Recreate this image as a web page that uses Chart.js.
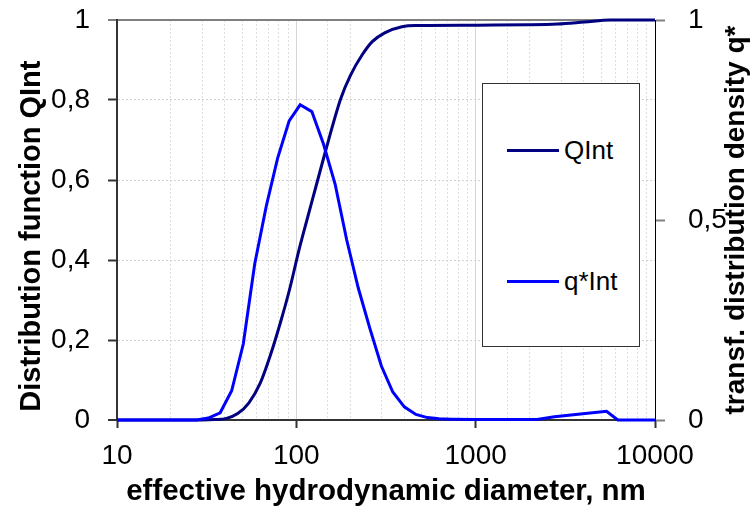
<!DOCTYPE html>
<html><head><meta charset="utf-8">
<script src="https://cdn.jsdelivr.net/npm/chart.js@4/dist/chart.umd.min.js"></script>
<style>
html,body{margin:0;padding:0;background:#fff;}
#wrap{position:relative;width:753px;height:511px;}
#legend{position:absolute;left:482px;top:83px;width:158px;height:264px;box-sizing:border-box;border:1.5px solid #333;background:#fff;font-family:'Liberation Sans',Arial,sans-serif;font-size:26px;color:#000;}
.item{position:absolute;left:24px;display:flex;align-items:center;height:30px;margin-top:-15px;white-space:nowrap;}
.swatch{width:52px;height:3px;margin-right:5px;}
</style></head>
<body><div id="wrap"><canvas id="c" width="753" height="511"></canvas><div id="legend"></div></div>
<script>
// ---- data ----
const seriesNames = ['QInt', 'q*Int'];
const qintX = [10, 30, 35, 40.8, 47.1, 54.4, 62.9, 71.8, 82.3, 91.5, 104, 113, 128, 146, 177, 201, 233, 265, 311, 388, 460, 545, 1030, 1950, 2860, 4040, 5640, 10000];
const qintY = [0, 0, 0.001, 0.004, 0.016, 0.043, 0.092, 0.163, 0.25, 0.325, 0.429, 0.49, 0.58, 0.675, 0.804, 0.863, 0.913, 0.946, 0.968, 0.983, 0.986, 0.986, 0.987, 0.988, 0.99, 0.995, 1.0, 1.0];
const qstarX = [10, 27.8, 32.3, 37.6, 43.6, 50.6, 58.6, 68, 78.6, 91.2, 105, 122, 141.7, 164.5, 191, 221.5, 257, 298, 345, 400, 464, 538, 625, 730, 1000, 1500, 2200, 2750, 3840, 5370, 6200, 10000];
const qstarY = [0, 0, 0.005, 0.018, 0.073, 0.19, 0.39, 0.535, 0.654, 0.748, 0.788, 0.771, 0.69, 0.59, 0.45, 0.33, 0.229, 0.135, 0.07, 0.033, 0.014, 0.006, 0.003, 0.002, 0.001, 0.001, 0.001, 0.008, 0.015, 0.022, 0, 0];
const xTickLabels = ['10', '100', '1000', '10000'];
const yTickLabels = ['0', '0,2', '0,4', '0,6', '0,8', '1'];
const y2TickLabels = ['0', '0,5', '1'];
const xTitle = 'effective hydrodynamic diameter, nm';
const yTitle = 'Distribution function QInt';
const y2Title = 'transf. distribution density q*';

const FONT = "'Liberation Sans', Arial, sans-serif";
Chart.defaults.font.family = FONT;
Chart.defaults.color = '#000';

const toPts = (xs, ys) => xs.map((x, i) => ({x: x, y: ys[i]}));
const isMajor = v => xTickLabels.includes(String(v));

const rightTitle = {
  id: 'rightTitle',
  afterDraw(chart) {
    const ctx = chart.ctx, a = chart.chartArea;
    ctx.save();
    ctx.font = 'bold 28px ' + FONT;
    ctx.fillStyle = '#000';
    ctx.textAlign = 'center';
    ctx.textBaseline = 'middle';
    ctx.translate(736, (a.top + a.bottom) / 2);
    ctx.rotate(-Math.PI / 2);
    ctx.fillText(y2Title, 0, 0);
    ctx.restore();
  }
};

const chart = new Chart(document.getElementById('c'), {
  type: 'line',
  data: {
    datasets: [
      {label: seriesNames[0], data: toPts(qintX, qintY), borderColor: '#000080', backgroundColor: '#000080',
       borderWidth: 3, pointRadius: 0, cubicInterpolationMode: 'monotone', yAxisID: 'y', order: 1, clip: 3},
      {label: seriesNames[1], data: toPts(qstarX, qstarY), borderColor: '#0000FF', backgroundColor: '#0000FF',
       borderWidth: 3, pointRadius: 0, tension: 0, yAxisID: 'y2', order: 0, clip: 3}
    ]
  },
  options: {
    responsive: false,
    animation: false,
    events: [],
    layout: {padding: {top: 20, left: 0, right: 0, bottom: 0}},
    plugins: {legend: {display: false}, tooltip: {enabled: false}},
    scales: {
      x: {
        type: 'logarithmic', position: 'bottom', min: 10, max: 10000,
        afterFit: s => { s.height = 91; },
        ticks: {autoSkip: false, maxRotation: 0, padding: 11, font: {size: 28},
          callback: v => isMajor(v) ? String(v) : ''},
        grid: {
          color: c => isMajor(c.tick && c.tick.value) ? '#d6d6d6' : '#dedede',
          lineWidth: 1,
          tickLength: 8,
          tickColor: c => isMajor(c.tick && c.tick.value) ? '#333' : 'rgba(0,0,0,0)',
          tickWidth: 2
        },
        border: {color: '#333', width: 2, dash: c => (c.type === 'tick' && !isMajor(c.tick.value)) ? [2, 2] : []},
        title: {display: true, text: xTitle, font: {size: 29.5, weight: 'bold'}, padding: {top: 0, bottom: 1}}
      },
      y: {
        position: 'left', min: 0, max: 1,
        afterFit: s => { s.width = 117; s.paddingTop = 0; s.paddingBottom = 0; },
        ticks: {stepSize: 0.2, padding: 18, font: {size: 28},
          callback: (v, i) => yTickLabels[i]},
        grid: {
          color: c => c.tick.value >= 1 ? '#808080' : (c.tick.value <= 0 ? '#333' : '#d4d4d4'),
          lineWidth: c => (c.tick.value >= 1 || c.tick.value <= 0) ? 2 : 1,
          tickLength: 9,
          tickColor: c => c.tick.value >= 1 ? '#808080' : '#333',
          tickWidth: 2
        },
        border: {color: '#333', width: 2, dash: c => (c.type === 'tick' && c.tick.value > 0 && c.tick.value < 1) ? [2, 2] : []},
        title: {display: true, text: yTitle + '    ', font: {size: 29, weight: 'bold'}, padding: {top: 15, bottom: 0}}
      },
      y2: {
        position: 'right', min: 0, max: 1,
        afterFit: s => { s.width = 98; s.paddingTop = 0; s.paddingBottom = 0; },
        ticks: {stepSize: 0.5, padding: 23, font: {size: 28},
          callback: (v, i) => y2TickLabels[i]},
        grid: {drawOnChartArea: false, tickLength: 10, tickColor: '#808080', tickWidth: 2},
        border: {color: '#000', width: 1}
      }
    }
  },
  plugins: [rightTitle]
});

// HTML legend built from the chart's datasets
const leg = document.getElementById('legend');
const rowTops = [66, 197];
chart.data.datasets.forEach((ds, i) => {
  const row = document.createElement('div');
  row.className = 'item';
  row.style.top = rowTops[i] + 'px';
  const sw = document.createElement('div');
  sw.className = 'swatch';
  sw.style.background = ds.borderColor;
  const tx = document.createElement('span');
  tx.textContent = ds.label;
  row.appendChild(sw); row.appendChild(tx);
  leg.appendChild(row);
});
</script>
</body></html>
